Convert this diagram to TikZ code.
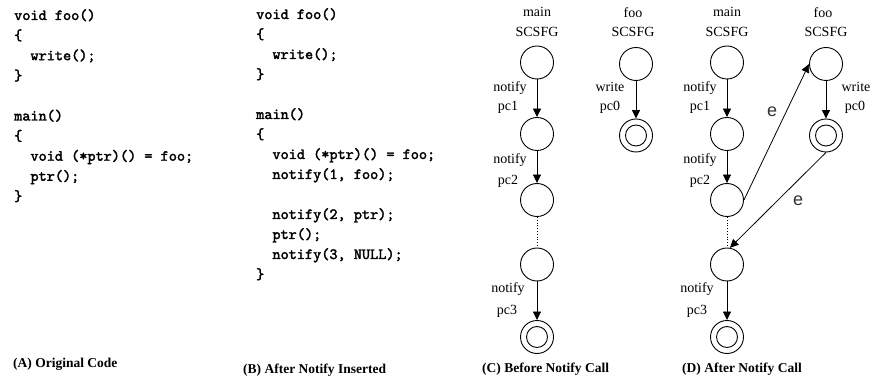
\documentclass[tikz,border=0pt]{standalone}
\usepackage{fontspec}
\setmainfont{Liberation Serif}
\newfontfamily\edgefont{Liberation Sans}
\newfontfamily\codefont{lmmono10-regular.otf}[FakeBold=2.2]
\usetikzlibrary{arrows.meta}

\newcommand{\ind}{\phantom{xx}}

\begin{document}
\begin{tikzpicture}[x=1pt,y=-1pt,
  code/.style={anchor=base west, inner sep=0pt,
    font=\codefont\fontsize{15.5}{16}\selectfont},
  lbl/.style={anchor=base, inner sep=0pt, font=\fontsize{14}{16}\selectfont},
  captext/.style={anchor=base west, inner sep=0pt, font=\bfseries\fontsize{13.5}{16}\selectfont},
  elbl/.style={inner sep=0pt, text=black!80, font=\edgefont\fontsize{18}{18}\selectfont},
  state/.style={circle, draw, line width=0.9pt, minimum size=33pt, inner sep=0pt},
  final/.style={state, path picture={\draw[line width=0.9pt]
    (path picture bounding box.center) circle (10.5pt);}},
  arr/.style={-{Triangle[length=8.5pt,width=8pt]}, line width=0.8pt},
  dots/.style={dotted, line width=0.8pt}
]
\useasboundingbox (0,0) rectangle (870,379);

% (A) original source
\node[code] (a0) at (14,20)    {void foo()};
\node[code] (a1) at (14,40.1)  {\{};
\node[code] (a2) at (14,60.2)  {\ind write();};
\node[code] (a3) at (14,80.3)  {\}};
\node[code] (a5) at (14,120.5) {main()};
\node[code] (a6) at (14,140.6) {\{};
\node[code] (a7) at (14,160.7) {\ind void (*ptr)() = foo;};
\node[code] (a8) at (14,180.8) {\ind ptr();};
\node[code] (a9) at (14,200.9) {\}};

% (B) source with notify calls
\node[code] (b0)  at (256,19)  {void foo()};
\node[code] (b1)  at (256,39)  {\{};
\node[code] (b2)  at (256,59)  {\ind write();};
\node[code] (b3)  at (256,79)  {\}};
\node[code] (b5)  at (256,119) {main()};
\node[code] (b6)  at (256,139) {\{};
\node[code] (b7)  at (256,159) {\ind void (*ptr)() = foo;};
\node[code] (b8)  at (256,179) {\ind notify(1, foo);};
\node[code] (b10) at (256,219) {\ind notify(2, ptr);};
\node[code] (b11) at (256,239) {\ind ptr();};
\node[code] (b12) at (256,259) {\ind notify(3, NULL);};
\node[code] (b13) at (256,279) {\}};

% (C) graphs before the notify call
\node[lbl] (cmainT) at (537,16.5) {main};
\node[lbl] (cmainS) at (537,36.5) {SCSFG};
\node[lbl] (cfooT)  at (633,18)   {foo};
\node[lbl] (cfooS)  at (633,36.5) {SCSFG};

\node[state] (cm1) at (537,62.5)  {};
\node[state] (cm2) at (537,134)   {};
\node[state] (cm3) at (537,200)   {};
\node[state] (cm4) at (537,264.5) {};
\node[final] (cm5) at (537,337)   {};
\node[state] (cf1) at (636,64)    {};
\node[final] (cf2) at (636,135.5) {};

\draw[arr]  (cm1.south) -- (cm2.north);
\draw[arr]  (cm2.south) -- (cm3.north);
\draw[dots] (cm3.south) -- (cm4.north);
\draw[arr]  (cm4.south) -- (cm5.north);
\draw[arr]  (cf1.south) -- (cf2.north);

\node[lbl] (cn1) at (510,92)  {notify};
\node[lbl] (cp1) at (508,111) {pc1};
\node[lbl] (cn2) at (510,164) {notify};
\node[lbl] (cp2) at (508,185) {pc2};
\node[lbl] (cn3) at (508,293) {notify};
\node[lbl] (cp3) at (507,315) {pc3};
\node[lbl] (cw)  at (610,92)  {write};
\node[lbl] (cp0) at (610,111) {pc0};

% (D) graphs after the notify call
\node[lbl] (dmainT) at (727,16.5) {main};
\node[lbl] (dmainS) at (727,36.5) {SCSFG};
\node[lbl] (dfooT)  at (823,18)   {foo};
\node[lbl] (dfooS)  at (826,36.5) {SCSFG};

\node[state] (dm1) at (727,62.5)  {};
\node[state] (dm2) at (727,134)   {};
\node[state] (dm3) at (727,200)   {};
\node[state] (dm4) at (727,264.5) {};
\node[final] (dm5) at (727,337)   {};
\node[state] (df1) at (826,64)    {};
\node[final] (df2) at (826,135.5) {};

\draw[arr]  (dm1.south) -- (dm2.north);
\draw[arr]  (dm2.south) -- (dm3.north);
\draw[dots] (dm3.south) -- (dm4.north);
\draw[arr]  (dm4.south) -- (dm5.north);
\draw[arr]  (df1.south) -- (df2.north);
\draw[arr]  (dm3.east) -- (df1.west);
\draw[arr]  (df2.south) -- (dm4.80);

\node[lbl] (dn1) at (700,92)  {notify};
\node[lbl] (dp1) at (700,111) {pc1};
\node[lbl] (dn2) at (700,164) {notify};
\node[lbl] (dp2) at (700,185) {pc2};
\node[lbl] (dn3) at (697,293) {notify};
\node[lbl] (dp3) at (697,315) {pc3};
\node[lbl] (dw)  at (856,92)  {write};
\node[lbl] (dp0) at (855,111) {pc0};

\node[elbl] (de1) at (772,112) {e};
\node[elbl] (de2) at (798,201) {e};

% captions
\node[captext] (capA) at (13,367)  {(A) Original Code};
\node[captext] (capB) at (243,373) {(B) After Notify Inserted};
\node[captext] (capC) at (482,372) {(C) Before Notify Call};
\node[captext] (capD) at (682,372) {(D) After Notify Call};
\end{tikzpicture}
\end{document}
